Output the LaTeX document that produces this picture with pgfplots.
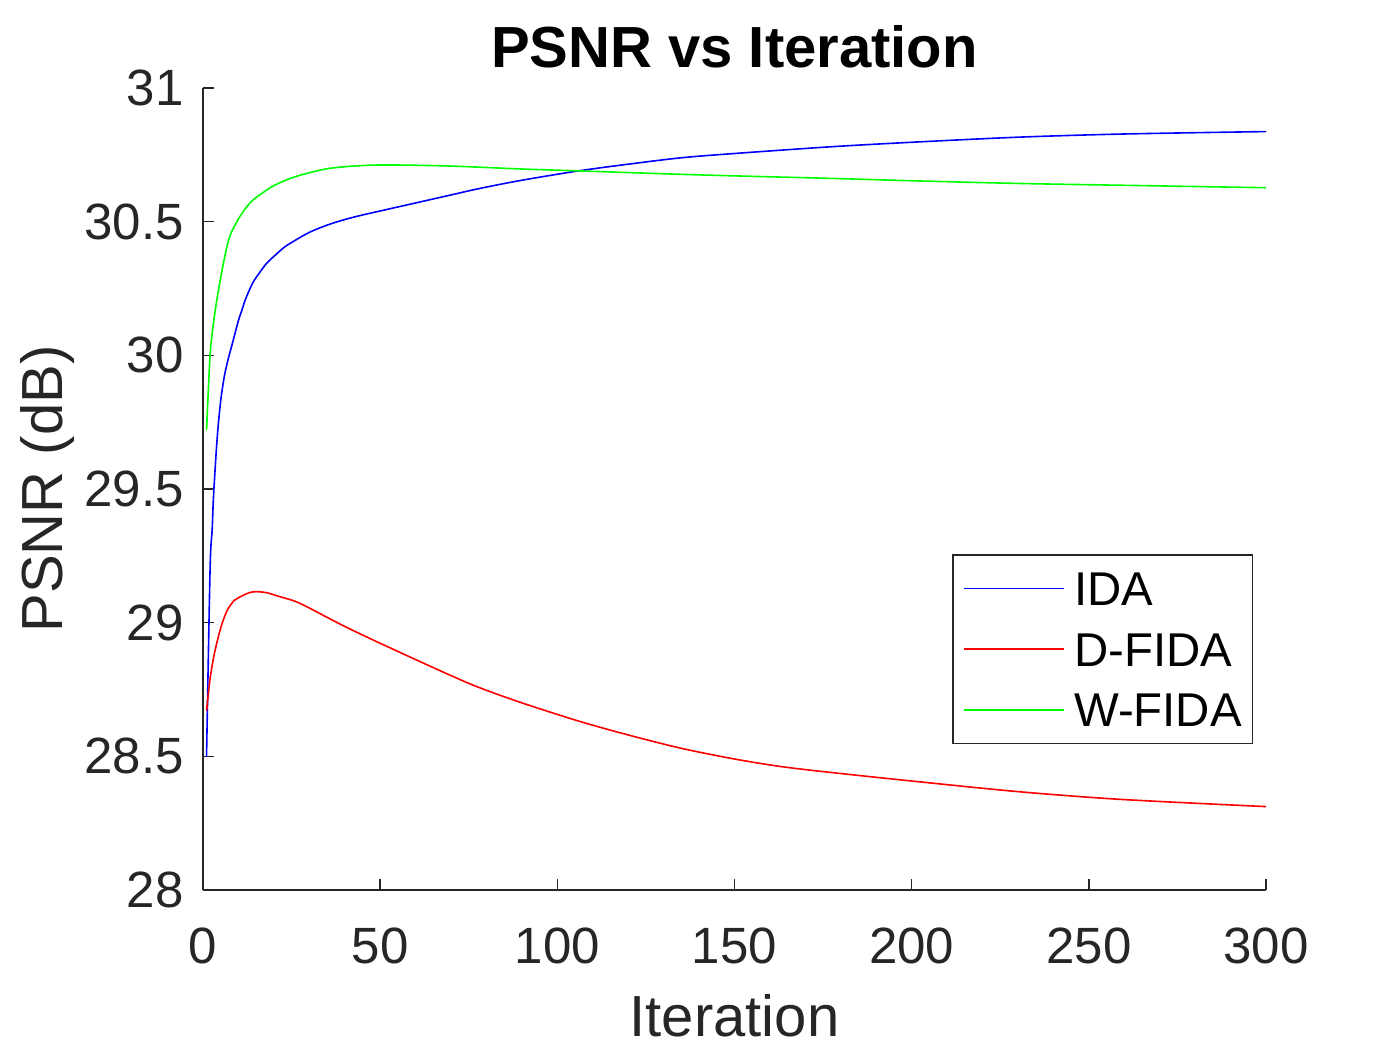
\documentclass[border=0pt]{standalone}
\usepackage{pgfplots}
\pgfplotsset{compat=1.18}
\usepackage{fontspec}
\setmainfont{Liberation Sans}
\definecolor{axgray}{RGB}{38,38,38}
\begin{document}
\begin{tikzpicture}
\path[use as bounding box] (-101.5pt,-80pt) rectangle (598.5pt,445pt);
\begin{axis}[
  at={(0,0)}, anchor=south west,
  width=531.5pt, height=401pt, scale only axis,
  xmin=0, xmax=300, ymin=28, ymax=31,
  axis x line=bottom, axis y line=left,
  axis line style={-, axgray, line width=0.8pt},
  every tick/.style={axgray, line width=0.8pt},
  tick align=inside, major tick length=5.5pt,
  xtick={0,50,...,300}, ytick={28,28.5,...,31},
  /pgf/number format/assume math mode=true,
  tick label style={font=\fontsize{25.5}{28}\selectfont, text=axgray},
  xticklabel style={anchor=base, inner sep=0pt, yshift=-36.7pt},
  yticklabel style={anchor=east, inner sep=0pt, xshift=-9.5pt},
  title={PSNR vs Iteration},
  title style={font=\fontsize{29}{32}\selectfont\bfseries, at={(axis description cs:0.5,1)}, anchor=base, yshift=4.4pt, inner sep=0pt},
  xlabel={Iteration},
  xlabel style={font=\fontsize{29}{32}\selectfont, text=axgray, at={(axis description cs:0.5,0)}, anchor=base, yshift=-73.3pt, inner sep=0pt},
  ylabel={PSNR (dB)},
  ylabel style={font=\fontsize{29}{32}\selectfont, text=axgray, at={(axis description cs:-0.1326,0.5)}, anchor=base, rotate=0, inner sep=0pt},
  legend style={at={(axis description cs:0.988,0.419)}, anchor=north east,
    draw=axgray, line width=0.8pt, fill=white,
    font=\fontsize{23.7}{26}\selectfont,
    inner xsep=5.35pt, inner ysep=8.3pt,
    row sep=13.35pt, column sep=4.5pt,
    nodes={inner sep=0pt, text height=17pt, text depth=0pt}},
  legend cell align=left,
  legend image code/.code={\draw[#1, line width=0.8pt] (0pt,0pt) -- (50pt,0pt);},
]
\addplot[blue, line width=0.8pt, smooth, tension=0.5] coordinates {
(1,28.50)(2,29.20)(2.6,29.35)(3,29.48)(4,29.69)(5,29.83)(6,29.92)(7,29.98)(8,30.03)(9,30.08)(10,30.13)(11,30.17)(12,30.21)(14,30.27)(16,30.31)(18,30.345)(20,30.37)(23,30.405)(26,30.43)(30,30.46)(35,30.487)(40,30.508)(45,30.525)(50,30.54)(60,30.57)(70,30.60)(78,30.624)(90,30.655)(106,30.69)(120,30.715)(135,30.739)(150,30.755)(177,30.78)(200,30.797)(230,30.816)(260,30.828)(300,30.837)};
\addlegendentry{IDA}
\addplot[red, line width=0.8pt, smooth, tension=0.5] coordinates {
(1,28.67)(2,28.79)(3,28.87)(4,28.93)(5,28.98)(6,29.02)(7,29.05)(8,29.07)(9,29.085)(11,29.10)(13,29.112)(15,29.116)(18,29.112)(21,29.10)(26,29.08)(30,29.055)(35,29.02)(40,28.986)(45,28.954)(50,28.923)(60,28.862)(70,28.802)(78,28.757)(90,28.70)(106,28.632)(120,28.58)(135,28.53)(150,28.49)(163,28.462)(177,28.44)(202,28.405)(230,28.368)(259,28.339)(300,28.312)};
\addlegendentry{D-FIDA}
\addplot[green, line width=0.8pt, smooth, tension=0.5] coordinates {
(1,29.72)(2,30.00)(3,30.125)(4,30.215)(5,30.29)(6,30.36)(7,30.42)(8,30.46)(10,30.51)(12,30.55)(14,30.58)(16,30.60)(20,30.635)(26,30.668)(35,30.698)(45,30.71)(54,30.712)(70,30.708)(90,30.697)(106,30.69)(140,30.675)(177,30.662)(200,30.653)(230,30.643)(260,30.636)(300,30.627)};
\addlegendentry{W-FIDA}
\end{axis}
\end{tikzpicture}
\end{document}
